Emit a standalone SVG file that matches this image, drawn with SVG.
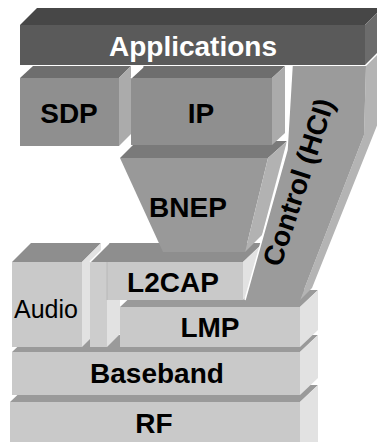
<svg xmlns="http://www.w3.org/2000/svg" width="377" height="442" viewBox="0 0 377 442">
<style>
.lbl{font-family:"Liberation Sans",Arial,Helvetica,sans-serif;font-weight:bold;font-size:28px;fill:#000;text-anchor:middle}
.wt{fill:#fff}
.reg{font-weight:normal;font-size:25px}
.gap{fill:none;stroke:#fff;stroke-width:1.5}
.lt{fill:#9a9a9a}.lf{fill:#c9c9c9}.ls{fill:#e2e2e2}
.at{fill:#8e8e8e}
.mt{fill:#6e6e6e}.mf{fill:#8f8f8f}.ms{fill:#ababab}
.bt{fill:#7a7a7a}.bf{fill:#999999}.bs{fill:#b2b2b2}
.cf{fill:#9b9b9b}.cs{fill:#b4b4b4}
.dt{fill:#474747}.df{fill:#5a5a5a}.ds{fill:#6c6c6c}
</style>
<rect width="377" height="442" fill="#fff"/>
<g id="rf">
<polygon class="lt" points="10,402 28,385 318,385 300,402"/>
<rect class="lf" x="10" y="402" width="290" height="40"/>
<polygon class="ls" points="300,402 318,385 318,442 300,442"/>
<text class="lbl" x="154" y="433">RF</text>
</g>
<g id="baseband">
<polygon class="lt" points="12,352 30,335 318,335 300,352"/>
<rect class="lf" x="12" y="352" width="288" height="43"/>
<polygon class="ls" points="300,352 318,335 318,378 300,395"/>
<text class="lbl" x="157" y="383">Baseband</text>
</g>
<g id="lmp">
<polygon class="lt" points="120,307 138,290 318,290 300,307"/>
<rect class="lf" x="120" y="307" width="180" height="40"/>
<polygon class="ls" points="300,307 318,290 318,330 300,347"/>
<text class="lbl" x="210" y="337">LMP</text>
</g>
<g id="audio">
<polygon class="at" points="12,262 31,243 101,243 82,262"/>
<rect class="lf" x="12" y="262" width="70" height="85"/>
<polygon class="ls" points="82,262 101,243 101,328 82,347"/>
<text class="lbl reg" x="46" y="318">Audio</text>
</g>
<g id="l2cap">
<polygon class="at" points="90,262 109,243 263,243 243,262"/>
<rect fill="#cdcdcd" x="90" y="262" width="17" height="85"/>
<polygon class="ls" points="107,300 120,300 120,334 107,347"/>
<rect class="lf" x="107" y="262" width="136" height="38"/>
<line x1="107" y1="262" x2="107" y2="300" stroke="#b8b8b8" stroke-width="1"/>
<polygon class="ls" points="243,262 263,243 263,281 243,300"/>
<line class="gap" x1="90" y1="262" x2="109" y2="243"/>
<text class="lbl" x="173" y="292">L2CAP</text>
</g>
<g id="bnep">
<polygon class="bt" points="120,158 137,141 287,141 268,158"/>
<polygon class="bf" points="120,158 268,158 245,252 163,252"/>
<polygon class="bs" points="268,158 287,141 262,235 245,252"/>
<text class="lbl" x="188" y="217">BNEP</text>
</g>
<g id="control">
<polygon class="cs" points="366,66 378,54 378,123 312,288 300,300 364,135"/>
<polygon class="cf" points="292,66 366,66 364,135 300,300 245,300 287,150"/>
<polyline class="gap" points="292,66 287,150 245,300"/>
<text class="lbl" transform="translate(298,182) rotate(-72)" x="0" y="10">Control (HCI)</text>
</g>
<g id="ip">
<polygon class="mt" points="131,78 144,66 285,66 272,78"/>
<rect class="mf" x="131" y="78" width="141" height="67"/>
<polygon class="ms" points="272,78 285,66 285,133 272,145"/>
<text class="lbl" x="201" y="123">IP</text>
</g>
<g id="sdp">
<polygon class="mt" points="20,78 33,66 131,66 119,78"/>
<rect class="mf" x="20" y="78" width="99" height="68"/>
<polygon class="ms" points="119,78 131,66 131,134 119,146"/>
<line class="gap" x1="131" y1="78" x2="143" y2="67"/>
<text class="lbl" x="69" y="123">SDP</text>
</g>
<g id="applications">
<polygon class="dt" points="20,25 37,8 382,8 365,25"/>
<rect class="df" x="20" y="25" width="345" height="40"/>
<polygon class="ds" points="365,25 382,8 382,48 365,65"/>
<text class="lbl wt" x="193" y="56">Applications</text>
</g>
<g id="connectors"/>
</svg>
